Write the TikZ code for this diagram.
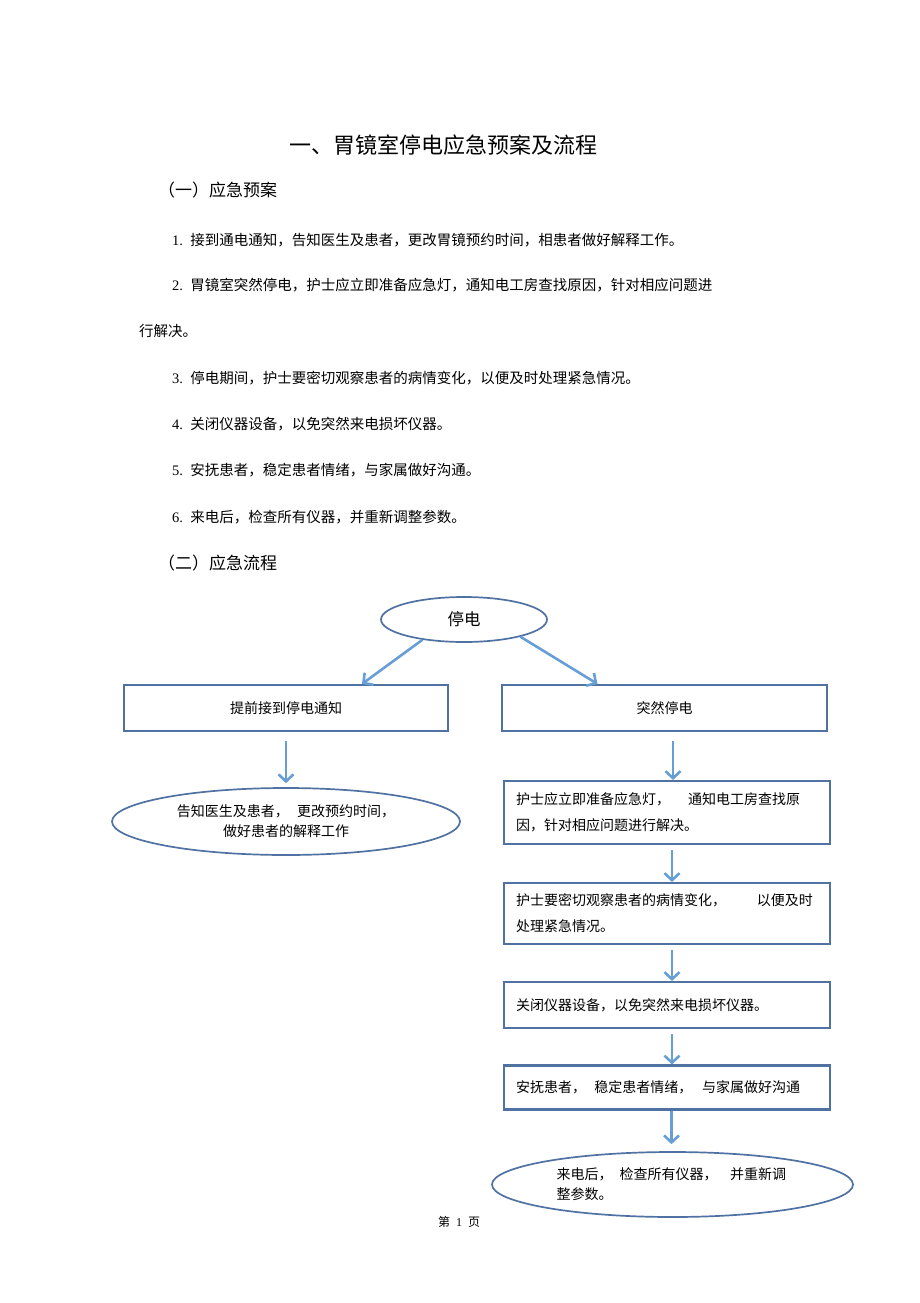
\documentclass[tikz,border=0pt]{standalone}
\usepackage{fontspec}
\setmainfont{Liberation Serif}
\newfontfamily\cjk{Noto Sans CJK SC}
\usepackage{xcolor}
\usetikzlibrary{arrows.meta, shapes.geometric}

\definecolor{boxblue}{RGB}{80,114,162}
\definecolor{arrowblue}{RGB}{104,158,214}
\newcommand{\gap}[1]{\hspace*{#1}}

\tikzset{
  bodytext/.style={anchor=west, inner sep=0pt, font=\fontsize{14.5}{17}\selectfont\cjk},
  stepbox/.style={draw=boxblue, line width=2.1pt, rectangle, minimum width=326pt,
    inner xsep=12pt, inner ysep=3pt, font=\fontsize{14}{26}\selectfont\cjk},
  textbox/.style={stepbox, text width=302pt, align=left},
  endbubble/.style={draw=boxblue, line width=1.7pt, ellipse, inner sep=0pt,
    font=\fontsize{14}{20}\selectfont\cjk},
  flow/.style={draw=arrowblue, line width=2.6pt, -{Straight Barb[length=7pt, width=15pt]}}
}

\begin{document}
\begin{tikzpicture}[x=1pt, y=-1pt]
        \useasboundingbox (0,0) rectangle (920,1303);

        % Heading and plan text
        \node[inner sep=0pt, font=\fontsize{22}{26}\selectfont\cjk] (title) at (443,145) {一、胃镜室停电应急预案及流程};
        \node[bodytext, font=\fontsize{17}{20}\selectfont\cjk] (partA) at (158,190) {（一）应急预案};
        \node[bodytext] (item1) at (172,240) {{\rmfamily 1.}\enspace 接到通电通知，告知医生及患者，更改胃镜预约时间，相患者做好解释工作。};
        \node[bodytext] (item2) at (172,285) {{\rmfamily 2.}\enspace 胃镜室突然停电，护士应立即准备应急灯，通知电工房查找原因，针对相应问题进};
        \node[bodytext] (item2b) at (139,331) {行解决。};
        \foreach \n/\y/\t in {3/378/{停电期间，护士要密切观察患者的病情变化，以便及时处理紧急情况。},
                              4/424/{关闭仪器设备，以免突然来电损坏仪器。},
                              5/470/{安抚患者，稳定患者情绪，与家属做好沟通。},
                              6/517/{来电后，检查所有仪器，并重新调整参数。}}
            \node[bodytext] (item\n) at (172,\y) {{\rmfamily \n.}\enspace \t};
        \node[bodytext, font=\fontsize{17}{20}\selectfont\cjk] (partB) at (158,563) {（二）应急流程};

        % Flow chart
        \node[endbubble, minimum width=166pt, minimum height=45pt, font=\fontsize{16.5}{20}\selectfont\cjk] (outage) at (464,619.5) {停电};
        \node[stepbox, minimum width=324pt, minimum height=46pt] (notice) at (286,708) {提前接到停电通知};
        \node[stepbox, minimum width=325pt, minimum height=46pt] (sudden) at (664.5,708) {突然停电};
        \node[endbubble, minimum width=348pt, minimum height=67pt, align=center] (inform) at (286,821.5)
            {告知医生及患者，\gap{0.6em}更改预约时间，\\做好患者的解释工作};
        \node[textbox, minimum height=63pt] (light) at (667,812.5)
            {护士应立即准备应急灯，\gap{1.3em}通知电工房查找原\\因，针对相应问题进行解决。};
        \node[textbox, minimum height=61pt] (watch) at (667,913.5)
            {护士要密切观察患者的病情变化，\gap{2.2em}以便及时\\处理紧急情况。};
        \node[textbox, minimum height=46pt] (switch) at (667,1005) {关闭仪器设备，以免突然来电损坏仪器。};
        \node[textbox, minimum height=44pt] (calm) at (667,1087.5)
            {安抚患者，\gap{0.6em}稳定患者情绪，\gap{0.7em}与家属做好沟通};
        \node[endbubble, minimum width=361pt, minimum height=65pt, text width=232pt, align=left] (restore) at (672.5,1184.5)
            {来电后，\gap{0.5em}检查所有仪器，\gap{0.9em}并重新调\\整参数。};

        % Arrows
        \draw[flow] (outage.206) -- ([xshift=76pt]notice.north);
        \draw[flow] (outage.343) -- ([xshift=-67pt]sudden.north);
        \draw[flow] ([yshift=-9pt]notice.south) -- ([yshift=4pt]inform.north);
        \draw[flow] ([xshift=8.5pt, yshift=-9pt]sudden.south) -- ([xshift=6pt]light.north);
        \foreach \a/\b in {light/watch, watch/switch, switch/calm}
            \draw[flow] ([xshift=5pt, yshift=-5pt]\a.south) -- ([xshift=5pt]\b.north);
        \draw[flow] ([xshift=4.5pt]calm.south) -- ([xshift=-1pt, yshift=7pt]restore.north);

        % Page number
        \node[inner sep=0pt, font=\fontsize{12}{14}\selectfont] (pagenum) at (459,1222) {{\cjk 第}\ \ 1\ \ {\cjk 页}};
    \end{tikzpicture}
\end{document}
